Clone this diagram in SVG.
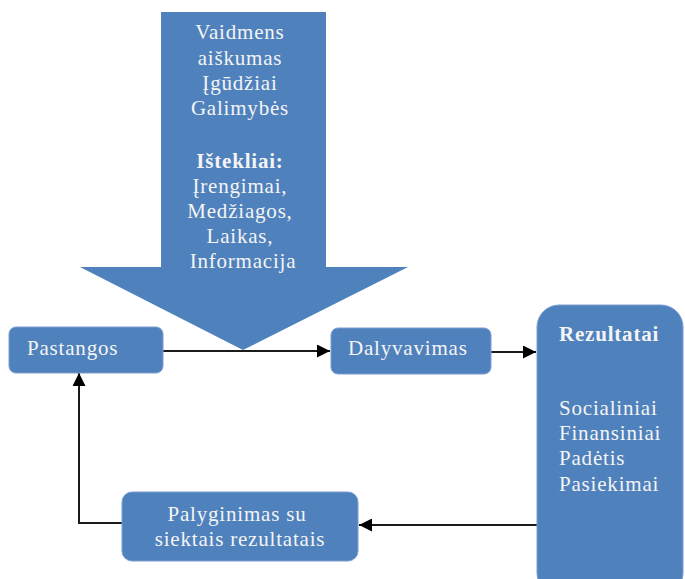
<svg xmlns="http://www.w3.org/2000/svg" width="685" height="579" viewBox="0 0 685 579">
  <style>
    .box { fill: #4f81bd; stroke: #7a9ed0; stroke-width: 1; }
    .t { font-family: "Liberation Serif", "Times New Roman", serif; font-size: 21px; fill: #f4f4f4; letter-spacing: 0.8px; }
    .c { text-anchor: middle; }
    .b { font-weight: bold; }
    .ln { fill: none; stroke: #1a1a1a; stroke-width: 2; }
  </style>
  <defs>
    <marker id="ah" viewBox="0 0 10 10" refX="10" refY="5" markerWidth="6.5" markerHeight="6.5" orient="auto" markerUnits="strokeWidth">
      <path d="M0,0 L10,5 L0,10 Z" fill="#000"/>
    </marker>
  </defs>
  <rect width="685" height="579" fill="#fff"/>

  <!-- large downward arrow: roles, skills and resources -->
  <g id="resources">
    <path d="M161,12 H326 V267 H408 L243,350 L80,267 H161 Z" fill="#4f81bd"/>
    <text class="t c" x="243">
      <tspan x="243" y="39">Vaidmens</tspan>
      <tspan x="243" y="65">aiškumas</tspan>
      <tspan x="243" y="90">Įgūdžiai</tspan>
      <tspan x="243" y="115">Galimybės</tspan>
      <tspan x="243" y="168" class="b">Ištekliai:</tspan>
      <tspan x="243" y="193">Įrengimai,</tspan>
      <tspan x="243" y="218">Medžiagos,</tspan>
      <tspan x="243" y="243">Laikas,</tspan>
      <tspan x="243" y="268">Informacija</tspan>
    </text>
  </g>

  <!-- connectors -->
  <g id="connectors">
    <line class="ln" x1="163" y1="351" x2="330" y2="351" marker-end="url(#ah)"/>
    <line class="ln" x1="491" y1="352" x2="536" y2="352" marker-end="url(#ah)"/>
    <line class="ln" x1="537" y1="525" x2="359" y2="525" marker-end="url(#ah)"/>
    <polyline class="ln" points="122,523 79,523 79,373" marker-end="url(#ah)"/>
  </g>

  <g id="pastangos">
    <rect class="box" x="9" y="327" width="154" height="46" rx="7"/>
    <text class="t" x="27" y="355">Pastangos</text>
  </g>

  <g id="dalyvavimas">
    <rect class="box" x="331" y="328" width="160" height="46" rx="7"/>
    <text class="t" x="348" y="355">Dalyvavimas</text>
  </g>

  <g id="rezultatai">
    <rect class="box" x="537" y="305" width="146" height="290" rx="22"/>
    <text class="t b" x="559" y="341">Rezultatai</text>
    <text class="t">
      <tspan x="559" y="415">Socialiniai</tspan>
      <tspan x="559" y="440">Finansiniai</tspan>
      <tspan x="559" y="465">Padėtis</tspan>
      <tspan x="559" y="491">Pasiekimai</tspan>
    </text>
  </g>

  <g id="palyginimas">
    <rect class="box" x="122" y="492" width="236" height="69" rx="10"/>
    <text class="t c">
      <tspan x="240" y="521">Palyginimas su</tspan>
      <tspan x="240" y="546">siektais rezultatais</tspan>
    </text>
  </g>
</svg>
